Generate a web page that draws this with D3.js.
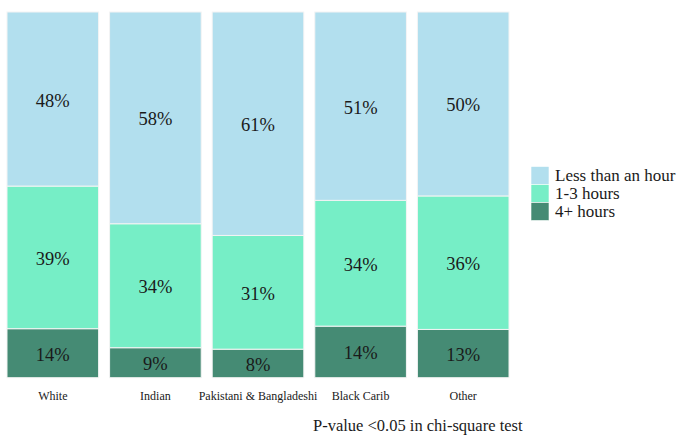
<!DOCTYPE html>
<html>
<head>
<meta charset="utf-8">
<script src="https://cdn.jsdelivr.net/npm/d3@7"></script>
<style>
  html, body { margin: 0; padding: 0; background: #fff; }
  svg { display: block; }
  text { font-family: "Liberation Serif", "DejaVu Serif", serif; fill: #1a1a1a; }
</style>
</head>
<body>
<svg id="chart" width="677" height="435"></svg>
<script>
// ---- data ----
const categories = ["White", "Indian", "Pakistani & Bangladeshi", "Black Carib", "Other"];
const seriesNames = ["Less than an hour", "1-3 hours", "4+ hours"];
const lessThanHour = [47.6, 57.9, 61.1, 51.5, 50.3];
const oneToThree   = [39.0, 33.9, 31.1, 34.4, 36.5];
const fourPlus     = [13.4, 8.2, 7.8, 14.1, 13.2];
const lessLabels   = ["48%", "58%", "61%", "51%", "50%"];
const oneLabels    = ["39%", "34%", "31%", "34%", "36%"];
const fourLabels   = ["14%", "9%", "8%", "14%", "13%"];
const caption = "P-value <0.05 in chi-square test";
const colors = ["#B2DFEE", "#76EEC6", "#458B74"];

// ---- build rows ----
const keys = ["four", "one", "less"]; // stacking order bottom -> top
const rows = categories.map((c, i) => ({
  cat: c,
  less: lessThanHour[i], one: oneToThree[i], four: fourPlus[i],
  lessLabel: lessLabels[i], oneLabel: oneLabels[i], fourLabel: fourLabels[i]
}));
const colorByKey = { less: colors[0], one: colors[1], four: colors[2] };

const svg = d3.select("#chart");

const x = d3.scaleBand().domain(categories).range([1.5, 514.5])
  .paddingInner(0.107).paddingOuter(0.0535);
const y = d3.scaleLinear().domain([0, 1]).range([377.7, 12]);

const stack = d3.stack().keys(keys).offset(d3.stackOffsetExpand);
const stacked = stack(rows);

const g = svg.append("g");
stacked.forEach(layer => {
  const key = layer.key;
  g.selectAll(null).data(layer).enter().append("rect")
    .attr("x", d => x(d.data.cat))
    .attr("width", x.bandwidth())
    .attr("y", d => y(d[1]))
    .attr("height", d => y(d[0]) - y(d[1]))
    .attr("fill", colorByKey[key])
    .attr("stroke", "#f4f4f4")
    .attr("stroke-width", 1);
});
stacked.forEach(layer => {
  const key = layer.key;
  g.selectAll(null).data(layer).enter().append("text")
    .attr("x", d => x(d.data.cat) + x.bandwidth() / 2)
    .attr("y", d => (y(d[0]) + y(d[1])) / 2 + 1)
    .attr("dy", "0.35em")
    .attr("text-anchor", "middle")
    .style("font-size", "18.5px")
    .text(d => d.data[key + "Label"]);
});

// x axis (labels only)
const xAxis = d3.axisBottom(x).tickSize(0).tickPadding(0);
const ax = svg.append("g").attr("transform", "translate(0,391)").call(xAxis);
ax.select(".domain").remove();
ax.selectAll("text").style("font-size", "12px")
  .style("font-family", "'Liberation Serif', serif").attr("fill", "#1a1a1a");

// legend
const legend = svg.append("g").attr("transform", "translate(531,166.5)");
seriesNames.forEach((s, i) => {
  legend.append("rect").attr("x", 0).attr("y", i * 18).attr("width", 18).attr("height", 18)
    .attr("fill", colors[i]).attr("stroke", "#fff").attr("stroke-width", 0.6);
  legend.append("text").attr("x", 24).attr("y", i * 18 + 9).attr("dy", "0.35em")
    .style("font-size", "17px").text(s);
});

// caption
svg.append("text").attr("x", 313).attr("y", 425).attr("dy", "0.35em")
  .style("font-size", "16.5px").text(caption);
</script>
</body>
</html>
